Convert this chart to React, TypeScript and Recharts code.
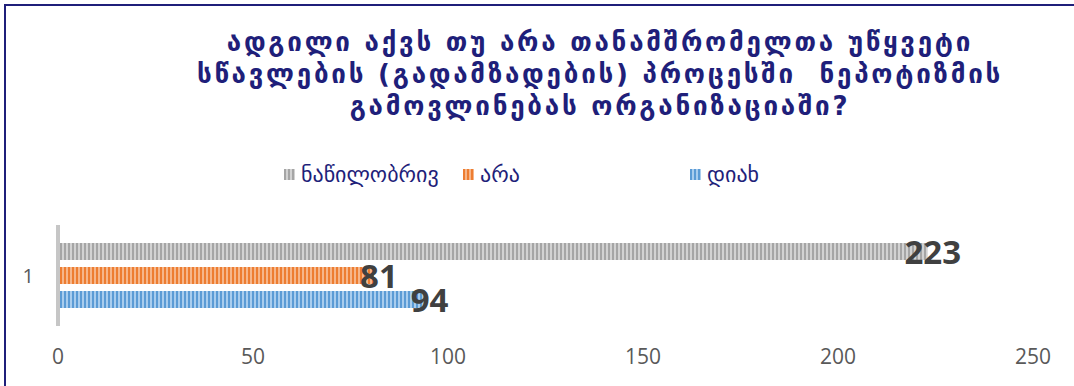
import { BarChart, Bar, XAxis, YAxis, LabelList } from "recharts";

const CATEGORIES = ["1"];
const PARTLY = [223]; // ნაწილობრივ
const NO = [81]; // არა
const YES = [94]; // დიახ
const X_TICKS = [0, 50, 100, 150, 200, 250];

const TITLE_LINES = [
  "ადგილი აქვს თუ არა თანამშრომელთა უწყვეტი",
  "სწავლების (გადამზადების) პროცესში  ნეპოტიზმის",
  "გამოვლინებას ორგანიზაციაში?",
];

const SERIES = [
  { key: "partly", name: "ნაწილობრივ", dark: "#a5a5a5", light: "#d2d2d2" },
  { key: "no", name: "არა", dark: "#ed7d31", light: "#f6b68a" },
  { key: "yes", name: "დიახ", dark: "#5b9bd5", light: "#a9cdee" },
];

const NAVY = "#1f1f7a";
const TEXT_GREY = "#595959";

const data = CATEGORIES.map((c, i) => ({
  cat: c,
  partly: PARTLY[i],
  no: NO[i],
  yes: YES[i],
}));

// value label centred on the bar end, like the Excel original
function EndLabel(props: any) {
  const { x, y, width, height, value } = props;
  return (
    <text
      x={Number(x) + Number(width) + 5}
      y={Number(y) + Number(height) / 2}
      textAnchor="middle"
      dominantBaseline="central"
      fontFamily="'Open Sans', sans-serif"
      fontWeight={700}
      fontSize={33}
      fill="#404040"
    >
      {value}
    </text>
  );
}

function stripes(dark: string, light: string) {
  return `repeating-linear-gradient(90deg, ${dark} 0px, ${dark} 2px, ${light} 2px, ${light} 4px)`;
}

// legend positions are irregular in the source, so place them by hand
const LEGEND_X = [284, 463, 690];

export default function App() {
  return (
    <div
      style={{
        position: "fixed",
        left: 0,
        top: 0,
        width: 1074,
        height: 386,
        background: "#fff",
        overflow: "hidden",
        fontFamily: "'DejaVu Sans', sans-serif",
      }}
    >
      <div
        style={{
          position: "absolute",
          left: 4,
          top: 4,
          width: 1080,
          height: 400,
          borderLeft: `2px solid ${NAVY}`,
          borderTop: `2px solid ${NAVY}`,
        }}
      />
      <div
        style={{
          position: "absolute",
          left: 0,
          top: 26,
          width: 1200,
          textAlign: "center",
          color: NAVY,
          fontSize: 26,
          fontWeight: 700,
          lineHeight: "32px",
          letterSpacing: 2.75,
          whiteSpace: "pre",
        }}
      >
        {TITLE_LINES.map((l) => (
          <div key={l}>{l}</div>
        ))}
      </div>
      {SERIES.map((s, i) => (
        <div
          key={s.key}
          style={{
            position: "absolute",
            left: LEGEND_X[i],
            top: 162,
            display: "flex",
            alignItems: "center",
            color: NAVY,
            fontSize: 22,
          }}
        >
          <div
            style={{
              width: 11,
              height: 11,
              marginRight: 6,
              background: stripes(s.dark, s.light),
            }}
          />
          <span>{s.name}</span>
        </div>
      ))}
      <div style={{ position: "absolute", left: 0, top: 0 }}>
        <BarChart
          width={1074}
          height={386}
          data={data}
          layout="vertical"
          margin={{ top: 225, right: 41, bottom: 30, left: 0 }}
          barSize={17}
          barGap={7}
        >
          <defs>
            {SERIES.map((s) => (
              <pattern
                key={s.key}
                id={`pat-${s.key}`}
                width={4}
                height={4}
                patternUnits="userSpaceOnUse"
              >
                <rect x={0} y={0} width={2} height={4} fill={s.dark} />
                <rect x={2} y={0} width={2} height={4} fill={s.light} />
              </pattern>
            ))}
          </defs>
          <XAxis
            type="number"
            domain={[0, 250]}
            ticks={X_TICKS}
            height={30}
            axisLine={false}
            tickLine={false}
            tickSize={0}
            tickMargin={23}
            tick={{ fill: TEXT_GREY, fontSize: 21, fontFamily: "'Open Sans', sans-serif" }}
          />
          <YAxis
            type="category"
            dataKey="cat"
            width={58}
            axisLine={{ stroke: "#c6c6c6", strokeWidth: 4 }}
            tickLine={false}
            tickSize={0}
            tickMargin={24}
            tick={{ fill: TEXT_GREY, fontSize: 20, fontFamily: "'Open Sans', sans-serif" }}
          />
          {SERIES.map((s) => (
            <Bar
              key={s.key}
              dataKey={s.key}
              name={s.name}
              fill={`url(#pat-${s.key})`}
              isAnimationActive={false}
            >
              <LabelList dataKey={s.key} content={<EndLabel />} />
            </Bar>
          ))}
        </BarChart>
      </div>
    </div>
  );
}
